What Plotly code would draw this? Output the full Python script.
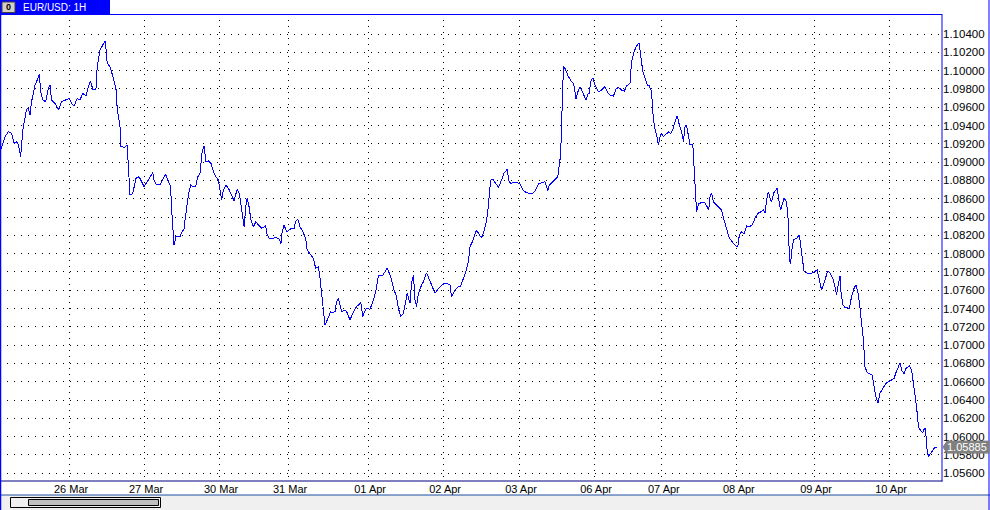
import plotly.graph_objects as go

# ---------------- data ----------------
symbol_title = "EUR/USD: 1H"

# bar time in hours from chart start
hours = [
    0, 1.6, 2.7, 3.7, 4.5, 5.3, 5.9, 6.6, 7.3, 8.0, 8.5, 9.1, 9.6, 10.1, 11.2, 11.9, 12.6, 13.0, 13.7, 14.6,
    15.5, 16.0, 16.5, 17.6, 18.7, 19.7, 21.3, 22.2, 22.9, 23.7, 24.7, 25.6, 26.5, 27.5, 28.6, 29.0, 29.7, 30.7,
    31.1, 32.0, 32.9, 33.7, 34.3, 35.2, 36.3, 37.1, 37.5, 38.4, 38.7, 40.0, 40.7, 41.1, 41.6, 42.5, 43.5, 44.3,
    44.8, 46.1, 47.5,
    48.9, 49.3, 50.1, 51.2, 52.3, 53.0, 53.9, 54.6, 54.9, 55.3,
    55.7, 56.3, 57.6, 58.3, 58.9, 59.2, 59.7, 60.3, 61.0, 61.7,
    62.6, 63.3, 64.0, 64.3, 64.7, 65.3, 65.9, 66.7, 67.5, 68.3,
    69.1, 69.9, 70.4, 70.9, 71.5, 72.3, 73.1, 74.1, 74.9, 75.9,
    76.6, 77.1, 77.7, 78.1, 78.7, 79.1, 79.7, 80.3, 81.1, 81.9,
    82.7, 83.7, 85.0, 85.5, 86.2, 87.3, 88.3, 89.4, 89.9, 90.3,
    90.9, 91.7, 92.6, 93.3, 94.1, 94.6, 95.3, 96.0, 96.9, 97.8,
    98.3, 99.2, 100.3, 101.0, 101.9, 102.4, 102.9, 103.5, 104.0, 104.5,
    105.3, 105.8, 106.5, 107.2, 107.7, 108.3, 109.3, 110.4, 111.1, 112.0,
    113.1, 114.1, 115.0, 115.4, 116.1, 116.6, 117.3, 118.4, 119.5, 120.3,
    121.1, 122.5, 123.9, 124.6,
    125.3, 125.9, 126.9, 127.5, 128.2, 129.1, 129.6, 130.3, 131.2, 131.7,
    132.3, 132.8, 133.3, 133.9, 134.9, 135.5, 136.5, 137.6, 139.2, 140.3,
    141.9, 143.1, 144.0, 144.5, 145.6, 146.7, 147.4, 148.3, 149.1, 149.9,
    150.4, 151.3, 152.0, 152.5, 153.6, 154.2, 155.0, 155.5, 156.1, 156.5,
    157.0, 157.7, 158.7, 159.5, 160.0, 160.5, 161.3, 162.3, 162.9, 163.4,
    164.3, 165.7, 166.4, 167.5, 168.5, 169.6, 170.5, 171.4, 172.3, 173.3,
    174.4, 174.9, 175.3, 175.8, 176.5, 177.6, 178.5, 178.9, 179.4, 179.7,
    180.1, 180.3, 180.8, 181.9, 182.9, 183.5, 184.0, 184.3, 185.1, 185.6,
    186.1, 186.9, 187.5, 188.1, 188.6, 189.0, 189.7, 190.4, 191.5, 192.5,
    193.6, 194.3, 195.2, 196.3, 197.1, 197.9, 198.9, 199.8, 200.5, 201.6,
    202.1, 202.9, 203.7, 204.5, 205.0, 205.7, 206.4, 207.1, 207.8, 208.5,
    208.9, 209.4, 210.1, 210.7, 211.2, 211.7, 212.3, 213.3, 213.9, 214.6,
    215.3, 216.0, 216.7, 217.4, 218.1, 218.7, 219.2, 219.7, 220.3, 220.8,
    221.7, 222.1, 222.5, 222.9, 223.5, 224.3, 225.6, 226.3, 226.8, 227.2,
    227.7, 228.3, 229.1, 229.9, 230.9, 231.7, 232.5, 233.4, 234.7, 235.5,
    236.1, 236.6, 237.3, 238.1, 238.9, 240.0, 240.9, 241.6, 242.7, 243.7,
    244.3, 244.8, 245.3, 245.9, 246.4, 246.9, 247.7, 248.7, 249.3, 249.8,
    250.9, 251.7, 252.3, 252.6, 253.0, 253.3, 253.9, 254.9, 255.8, 256.2,
    256.9, 257.3, 258.1, 259.2, 260.3, 261.5, 262.2, 262.9, 263.8, 264.9,
    265.6, 266.5, 267.2, 267.7, 268.3, 268.8, 269.1, 269.7, 270.4, 271.8,
    272.5, 273.3, 273.9, 274.7, 275.2, 275.7, 276.3, 276.8, 277.5, 278.4,
    279.1, 279.7, 280.3, 281.0, 281.6, 282.5, 283.5, 284.4, 285.3, 286.1,
    286.7, 287.5, 288.0, 288.5, 289.3, 289.9, 291.0, 291.7, 292.3, 292.8,
    293.3, 293.9, 294.6, 295.3, 295.7, 296.2, 296.5, 297.1, 297.8, 298.7,
    299.2, 299.9,
]

close = [
    1.09114, 1.09278, 1.09332, 1.09315, 1.09205, 1.09223, 1.09187, 1.09059, 1.09351, 1.09496,
    1.09580, 1.09588, 1.09515, 1.09660, 1.09843, 1.09897, 1.09960, 1.09769, 1.09679, 1.09660,
    1.09807, 1.09843, 1.09679, 1.09643, 1.09569, 1.09660, 1.09679, 1.09697, 1.09643, 1.09613,
    1.09697, 1.09679, 1.09752, 1.09722, 1.09861, 1.09879, 1.09796, 1.09796, 1.10043, 1.10225,
    1.10280, 1.10327, 1.10080, 1.10043, 1.09916, 1.09807, 1.09588, 1.09387, 1.09168, 1.09162,
    1.09187, 1.08987, 1.08640, 1.08659, 1.08823, 1.08840, 1.08823, 1.08731, 1.08804,
    1.08884, 1.08804, 1.08750, 1.08750, 1.08823, 1.08867, 1.08786, 1.08731, 1.08495, 1.08258,
    1.08094, 1.08185, 1.08185, 1.08239, 1.08266, 1.08367, 1.08513, 1.08640, 1.08750, 1.08731,
    1.08731, 1.08840, 1.08878, 1.08968, 1.09114, 1.09179, 1.09004, 1.09015, 1.08987, 1.08895,
    1.08840, 1.08804, 1.08677, 1.08586, 1.08695, 1.08750, 1.08714, 1.08640, 1.08578, 1.08703,
    1.08659, 1.08531, 1.08403, 1.08294, 1.08531, 1.08604, 1.08513, 1.08367, 1.08294, 1.08349,
    1.08313, 1.08277, 1.08302, 1.08203, 1.08167, 1.08167, 1.08178, 1.08156, 1.08105, 1.08239,
    1.08313, 1.08239, 1.08258, 1.08277, 1.08277, 1.08349, 1.08375, 1.08294, 1.08239, 1.08167,
    1.08039, 1.08003, 1.07949, 1.07839, 1.07857, 1.07730, 1.07566, 1.07384, 1.07220, 1.07256,
    1.07329, 1.07365, 1.07354, 1.07365, 1.07474, 1.07511, 1.07365, 1.07384, 1.07354, 1.07274,
    1.07365, 1.07420, 1.07449, 1.07474, 1.07310, 1.07365, 1.07402, 1.07391, 1.07493, 1.07602,
    1.07766, 1.07766, 1.07839, 1.07785,
    1.07711, 1.07621, 1.07529, 1.07402, 1.07310, 1.07348, 1.07438, 1.07566, 1.07457, 1.07675,
    1.07766, 1.07493, 1.07420, 1.07566, 1.07657, 1.07693, 1.07791, 1.07693, 1.07566, 1.07621,
    1.07668, 1.07675, 1.07657, 1.07529, 1.07602, 1.07638, 1.07646, 1.07730, 1.07802, 1.07911,
    1.08075, 1.08141, 1.08222, 1.08258, 1.08192, 1.08178, 1.08258, 1.08331, 1.08458, 1.08586,
    1.08804, 1.08812, 1.08768, 1.08725, 1.08761, 1.08804, 1.08878, 1.08921, 1.08786, 1.08768,
    1.08775, 1.08775, 1.08761, 1.08687, 1.08666, 1.08659, 1.08659, 1.08695, 1.08761, 1.08775,
    1.08786, 1.08731, 1.08684, 1.08750, 1.08775, 1.08812, 1.08840, 1.08950, 1.09078, 1.09405,
    1.09752, 1.10043, 1.10025, 1.09933, 1.09879, 1.09861, 1.09769, 1.09686, 1.09788, 1.09817,
    1.09788, 1.09733, 1.09679, 1.09741, 1.09752, 1.09879, 1.09922, 1.09843, 1.09769, 1.09788,
    1.09824, 1.09769, 1.09733, 1.09722, 1.09796, 1.09817, 1.09788, 1.09777, 1.09832, 1.09861,
    1.10097, 1.10207, 1.10269, 1.10305, 1.10152, 1.09988, 1.09916, 1.09843, 1.09832, 1.09769,
    1.09551, 1.09387, 1.09296, 1.09187, 1.09278, 1.09315, 1.09278, 1.09307, 1.09329, 1.09315,
    1.09351, 1.09442, 1.09504, 1.09405, 1.09332, 1.09223, 1.09387, 1.09405, 1.09278, 1.09187,
    1.09198, 1.08987, 1.08695, 1.08458, 1.08542, 1.08556, 1.08556, 1.08513, 1.08477, 1.08622,
    1.08659, 1.08567, 1.08542, 1.08513, 1.08477, 1.08367, 1.08277, 1.08167, 1.08113, 1.08083,
    1.08083, 1.08203, 1.08239, 1.08214, 1.08302, 1.08294, 1.08324, 1.08386, 1.08447, 1.08458,
    1.08484, 1.08440, 1.08586, 1.08677, 1.08604, 1.08567, 1.08670, 1.08714, 1.08567, 1.08477,
    1.08604, 1.08567, 1.08331, 1.07930, 1.07886, 1.08021, 1.08149, 1.08167, 1.08203, 1.08094,
    1.07930, 1.07802, 1.07791, 1.07777, 1.07796, 1.07821, 1.07711, 1.07602, 1.07693, 1.07813,
    1.07785, 1.07730, 1.07638, 1.07548, 1.07675, 1.07755, 1.07584, 1.07438, 1.07413, 1.07402,
    1.07529, 1.07621, 1.07657, 1.07548, 1.07402, 1.07256, 1.07056, 1.06764, 1.06698, 1.06684,
    1.06673, 1.06545, 1.06436, 1.06370, 1.06473, 1.06528, 1.06582, 1.06600, 1.06619, 1.06637,
    1.06698, 1.06764, 1.06808, 1.06728, 1.06684, 1.06746, 1.06772, 1.06728, 1.06600, 1.06455,
    1.06327, 1.06108, 1.06065, 1.06043, 1.06080, 1.06091, 1.05890, 1.05780, 1.05817, 1.05861,
    1.05883, 1.05885,
]

day_hours = [22.1, 46.1, 70.1, 92.2, 117.8, 141.8, 166.1, 190.1, 211.8, 235.8, 260.5, 284.5]
day_labels = ["26 Mar", "27 Mar", "30 Mar", "31 Mar", "01 Apr", "02 Apr",
              "03 Apr", "06 Apr", "07 Apr", "08 Apr", "09 Apr", "10 Apr"]

price_ticks = [1.056, 1.058, 1.060, 1.062, 1.064, 1.066, 1.068, 1.070, 1.072, 1.074,
               1.076, 1.078, 1.080, 1.082, 1.084, 1.086, 1.088, 1.090, 1.092, 1.094,
               1.096, 1.098, 1.100, 1.102, 1.104]

# ---------------- layout geometry ----------------
W, H = 990, 510
L, R, T, B = 0, 942, 14, 481
FONT = "Liberation Sans"
BLUE = "#0000ff"


def fx(p):
    return (p - L) / (R - L)


def fy(p):
    return (B - p) / (B - T)


fig = go.Figure()
fig.add_trace(go.Scatter(x=hours, y=close, mode="lines",
                         line=dict(color=BLUE, width=1), hoverinfo="skip",
                         showlegend=False))

shapes = []
# tab
shapes.append(dict(type="rect", xref="paper", yref="paper", x0=fx(0), x1=fx(110), y0=fy(0), y1=fy(14),
                   fillcolor=BLUE, line=dict(width=0), layer="above"))
shapes.append(dict(type="rect", xref="paper", yref="paper", x0=fx(2), x1=fx(15), y0=fy(2), y1=fy(12.5),
                   fillcolor="#d4d0c8", line=dict(color="#404040", width=1), layer="above"))
# borders
shapes.append(dict(type="line", xref="paper", yref="paper", x0=fx(0), x1=fx(942), y0=fy(14.5), y1=fy(14.5),
                   line=dict(color=BLUE, width=1), layer="above"))
shapes.append(dict(type="line", xref="paper", yref="paper", x0=fx(942), x1=fx(942), y0=fy(14), y1=fy(481.5),
                   line=dict(color=BLUE, width=1), layer="above"))
shapes.append(dict(type="line", xref="paper", yref="paper", x0=fx(0), x1=fx(942.5), y0=fy(481), y1=fy(481),
                   line=dict(color="#000080", width=1), layer="above"))
# bottom grey band with scrollbar
shapes.append(dict(type="rect", xref="paper", yref="paper", x0=fx(0), x1=fx(990), y0=fy(495), y1=fy(510),
                   fillcolor="#f0f0f0", line=dict(width=0), layer="above"))
shapes.append(dict(type="line", xref="paper", yref="paper", x0=fx(0), x1=fx(990), y0=fy(495), y1=fy(495),
                   line=dict(color="#1c4fa0", width=1), layer="above"))
shapes.append(dict(type="rect", xref="paper", yref="paper", x0=fx(10.5), x1=fx(160.5), y0=fy(497.5), y1=fy(507.5),
                   fillcolor="#f0f0f0", line=dict(color="#000000", width=1), layer="above"))
shapes.append(dict(type="rect", xref="paper", yref="paper", x0=fx(28.5), x1=fx(158.5), y0=fy(499.5), y1=fy(505.5),
                   fillcolor="#c0c0c0", line=dict(color="#000000", width=1), layer="above"))
# outer frame
shapes.append(dict(type="line", xref="paper", yref="paper", x0=fx(0.5), x1=fx(0.5), y0=fy(14), y1=fy(510),
                   line=dict(color=BLUE, width=1.5), layer="above"))
shapes.append(dict(type="line", xref="paper", yref="paper", x0=fx(989), x1=fx(989), y0=fy(0), y1=fy(510),
                   line=dict(color=BLUE, width=1), layer="above"))
# current price marker
shapes.append(dict(type="path", xref="paper", yref="y", xsizemode="pixel", ysizemode="pixel",
                   xanchor=1, yanchor=close[-1],
                   path="M 1,0 L 5,6 L 47,6 L 47,-6 L 5,-6 Z",
                   fillcolor="#808080", line=dict(color="#808080", width=1), layer="above"))

annotations = [
    dict(xref="paper", yref="paper", x=fx(21), y=fy(7.5), text=symbol_title, showarrow=False,
         xanchor="left", yanchor="middle", font=dict(family=FONT, size=10, color="#ffffff")),
    dict(xref="paper", yref="paper", x=fx(8.5), y=fy(7.5), text="<b>0</b>", showarrow=False,
         xanchor="center", yanchor="middle", font=dict(family=FONT, size=9, color="#000000")),
    dict(xref="paper", yref="y", x=fx(967), y=close[-1], text=f"{close[-1]:.5f}", showarrow=False,
         xanchor="center", yanchor="middle", font=dict(family=FONT, size=11, color="#ffffff")),
]

fig.update_layout(
    width=W, height=H,
    margin=dict(l=L, r=W - R, t=T, b=H - B, autoexpand=False),
    paper_bgcolor="#ffffff", plot_bgcolor="#ffffff",
    font=dict(family=FONT, size=11, color="#000000"),
    shapes=shapes, annotations=annotations,
    xaxis=dict(range=[0, 301.44], tickmode="array", tickvals=day_hours, ticktext=day_labels,
               showgrid=True, gridcolor="#000000", gridwidth=1, griddash="1px,5px",
               zeroline=False, showline=False, ticks="", ticklabelshift=2,
               tickfont=dict(family=FONT, size=11, color="#000000")),
    yaxis=dict(side="right", range=[1.055147, 1.106186], tickmode="array", tickvals=price_ticks,
               tickformat=".5f", showgrid=True, gridcolor="#000000", gridwidth=1, griddash="1px,6px",
               zeroline=False, showline=False, ticks="",
               tickfont=dict(family=FONT, size=11.5, color="#000000")),
)

fig.write_html(
    "out.html",
    config={"displayModeBar": False, "staticPlot": True},
    post_script=(
        "document.body.style.margin='0px';document.body.style.overflow='hidden';"
        "document.querySelectorAll('.scatterlayer path.js-line').forEach(function(p){"
        "p.style.shapeRendering='crispEdges';});"
    ),
)
